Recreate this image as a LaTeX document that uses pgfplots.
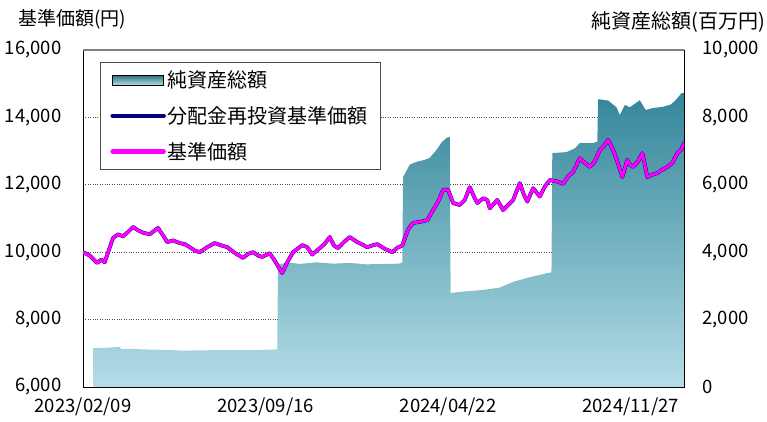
\documentclass[border=0pt]{standalone}
\usepackage{pgfplots}
\usepackage{pgfplotstable}
\pgfplotsset{compat=1.18}
\usepackage{fontspec}
\setmainfont{Noto Sans CJK JP}
\definecolor{navtop}{RGB}{52,134,154}
\definecolor{navbot}{RGB}{180,221,231}
\definecolor{navyline}{RGB}{0,0,128}
\definecolor{magline}{RGB}{255,0,255}

% day index from 2023/02/09, price in yen
\pgfplotstableread{
d v
0 10000
8 9900
17 9680
22 9780
26 9700
36 10420
42 10530
48 10470
54 10600
60 10750
66 10650
72 10580
80 10530
90 10720
96 10500
101 10300
108 10350
116 10270
122 10240
128 10150
134 10050
140 10000
149 10150
158 10270
166 10200
173 10150
182 9980
192 9830
198 9950
204 10000
210 9900
215 9860
224 9970
230 9750
239 9380
245 9700
252 10000
263 10210
269 10150
275 9930
284 10120
290 10250
296 10450
301 10200
306 10120
313 10300
320 10450
329 10300
341 10150
347 10200
353 10240
362 10100
371 10000
377 10130
383 10200
390 10680
396 10870
404 10900
413 10950
420 11250
426 11500
432 11850
438 11850
444 11460
452 11400
458 11550
464 11930
470 11600
473 11460
480 11600
485 11550
488 11300
497 11550
504 11250
510 11400
516 11550
524 12050
529 11700
533 11500
540 11900
548 11650
554 11950
560 12140
569 12100
576 12030
582 12250
588 12380
596 12790
602 12650
608 12530
614 12700
620 13030
625 13150
630 13330
636 13030
641 12700
647 12230
653 12740
656 12600
660 12530
666 12700
671 12940
674 12600
677 12230
683 12300
689 12350
695 12450
701 12530
707 12650
713 12940
718 13050
721 13240
}\pricetable

% net assets, million yen
\pgfplotstableread{
d v
12 0
12 1150
20 1160
30 1170
44 1190
46 1120
60 1130
80 1110
100 1100
120 1080
150 1090
180 1100
200 1090
228 1110
233 1120
234 3620
245 3700
260 3650
280 3700
300 3660
320 3680
340 3640
360 3650
380 3660
383 3700
384 6230
392 6600
400 6680
410 6740
416 6800
424 7030
430 7250
436 7390
440 7420
441 2790
460 2840
480 2880
500 2950
516 3120
535 3250
557 3380
562 3400
563 6940
580 6970
590 7080
596 7240
612 7240
617 7280
618 8540
630 8500
640 8300
644 8070
650 8370
656 8300
668 8510
675 8220
684 8280
695 8310
705 8380
711 8510
718 8720
721 8720
721 0
}\navtable

\begin{document}
\begin{tikzpicture}[x=1pt,y=1pt]
\useasboundingbox (0pt,0pt) rectangle (767pt,422pt);
\pgfplotsset{
  common/.style={
    at={(83pt,35pt)}, anchor=south west,
    width=601pt, height=337pt, scale only axis,
    xmin=0, xmax=721,
    axis line style={black, line width=0.9pt},
    tick style={black, line width=0.6pt},
    major tick length=5pt,
    tick align=inside,
    scaled y ticks=false,
    /pgf/number format/.cd, 1000 sep={,}, assume math mode=true,
    /pgfplots/.cd,
    ticklabel style={font=\fontsize{18.5}{18.5}\selectfont},
  }
}
\begin{axis}[common,
  ymin=0, ymax=10000,
  ytick={0,2000,4000,6000,8000,10000},
  ytick pos=right, yticklabel pos=right,
  yticklabel style={xshift=15pt},
  xtick={0,219,438,657},
  xticklabels={2023/02/09,2023/09/16,2024/04/22,2024/11/27},
  xtick pos=bottom,
  xticklabel style={yshift=-7pt},
  ymajorgrids, grid style={black!70, dotted, line width=0.6pt},
]
\addplot[draw=none, top color=navtop, bottom color=navbot] table[x=d,y=v]{\navtable} -- cycle;
\end{axis}
\begin{axis}[common,
  ymin=6000, ymax=16000,
  ytick={6000,8000,10000,12000,14000,16000},
  ytick pos=left, yticklabel pos=left,
  major tick length=0pt,
  yticklabel style={xshift=-18pt},
  xtick=\empty,
  legend cell align=left,
  legend style={at={(rel axis cs:0.0283,0.9644)}, anchor=north west,
    draw=black!70, line width=0.8pt, fill=white,
    font=\fontsize{20}{20}\selectfont,
    row sep=13.3pt, inner xsep=10pt, inner ysep=6.6pt,
    nodes={inner sep=2pt}},
]
\addlegendimage{legend image code/.code={\fill[top color=navtop!85!black, bottom color=navbot] (0pt,-5pt) rectangle (51pt,5pt);}}
\addlegendentry{純資産総額}
\addplot[navyline, line width=3.8pt, line join=round, line cap=round,
  legend image code/.code={\draw[navyline, line width=4.5pt, line cap=round] (0pt,0pt) -- (51pt,0pt);}]
  table[x=d,y=v]{\pricetable};
\addlegendentry{分配金再投資基準価額}
\addplot[magline, line width=3pt, line join=round, line cap=round,
  legend image code/.code={\draw[magline, line width=4.5pt, line cap=round] (0pt,0pt) -- (51pt,0pt);}]
  table[x=d,y=v]{\pricetable};
\addlegendentry{基準価額}
\draw[black!50, line width=1.6pt] (rel axis cs:0,1) -- (rel axis cs:1,1);
\end{axis}
\node[anchor=west, font=\fontsize{19}{19}\selectfont, inner sep=0pt] at (18pt,403pt) {基準価額(円)};
\node[anchor=east, font=\fontsize{20}{20}\selectfont, inner sep=0pt] at (765pt,400pt) {純資産総額(百万円)};
\end{tikzpicture}
\end{document}
